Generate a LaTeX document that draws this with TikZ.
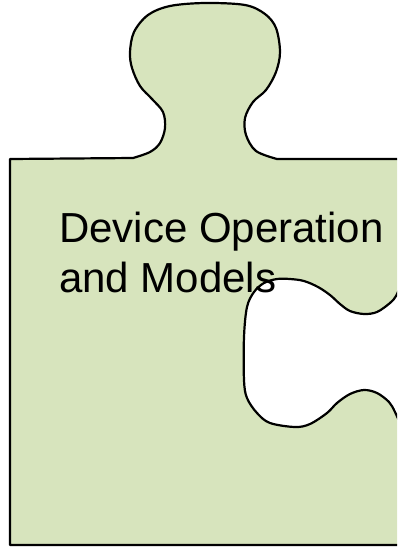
\documentclass[tikz,border=0pt]{standalone}
\usepackage{fontspec}
\setmainfont{Liberation Sans}
\definecolor{piecefill}{HTML}{D7E4BD}
\tikzset{
  piece/.style={draw=black, fill=piecefill, line width=2.2pt, line join=round},
  label/.style={inner sep=0pt, anchor=base west, font=\fontsize{42}{50}\selectfont, text=black}
}
\begin{document}
\begin{tikzpicture}[x=1pt,y=-1pt]
\useasboundingbox (0,0) rectangle (397,547);
\clip (0,0) rectangle (397,547);
\fill[white] (0,0) rectangle (397,547);
\draw[piece] (10,159) -- (133,158)
  -- plot[smooth, tension=0.55] coordinates {(133,158) (150,152) (160,143) (165,128) (163,112) (152,99) (140,86) (132,68) (130,52) (134,32) (148,15) (170,6) (205,3) (245,5) (265,14) (276,28) (280,52) (276,72) (266,90) (253,102) (245,118) (246,135) (256,151) (277,159)}
  -- (402,159) -- (402,282)
  -- plot[smooth, tension=0.55] coordinates {(402,282) (396,296) (390,303) (377,312) (364,314) (350,311) (340,304) (330,295) (318,287) (304,281) (290,279) (277,279) (264,283) (254,292) (247,307) (244,337) (244,380) (247,398) (257,413) (270,423) (295,427) (310,424) (327,413) (337,403) (350,394) (364,390) (377,393) (389,402) (395,412) (402,428)}
  -- (402,545) -- (10,545) -- cycle;
\node[label] (t1) at (59,242) {Device Operation};
\node[label] (t2) at (59,292) {and Models};
\end{tikzpicture}
\end{document}
